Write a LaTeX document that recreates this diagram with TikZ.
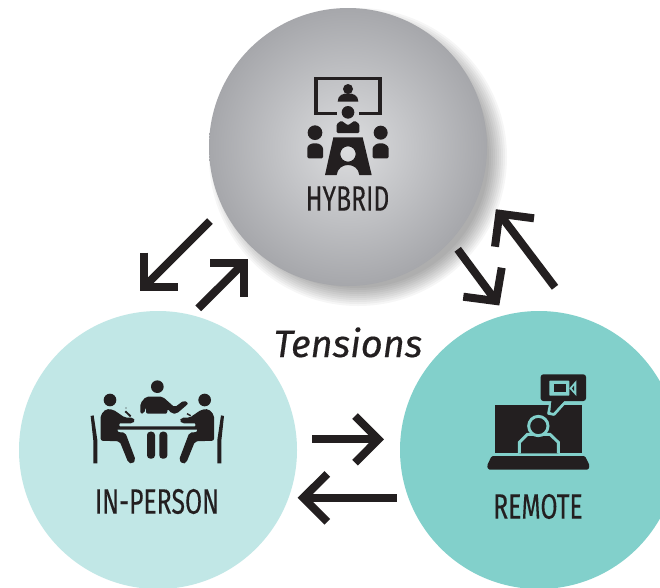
\documentclass[tikz,border=0pt]{standalone}
\usepackage{fontspec}
\setmainfont{Fira Sans}
\newfontfamily\labelfont[FakeStretch=0.70,FakeBold=0.2]{Fira Sans}
\newfontfamily\tensionfont[FakeBold=0.4]{Fira Sans}
\definecolor{ink}{HTML}{231F20}
\definecolor{lightteal}{HTML}{C1E7E6}
\definecolor{midteal}{HTML}{82D0CB}
\definecolor{greyin}{HTML}{DCDDDF}
\definecolor{greyout}{HTML}{A6A7AB}
\tikzset{
  disc/.style={circle,minimum size=208.5pt,inner sep=0pt,outer sep=0pt},
  arrowline/.style={draw=ink,line width=6pt,miter limit=10},
  tag/.style={text=ink,font=\labelfont\fontsize{26.5}{26.5}\selectfont,inner sep=0pt},
  zoomA/.style={shift={(280,60)},x=.25pt,y=-.25pt},
  zoomB/.style={shift={(80,370)},x=.25pt,y=-.25pt},
  zoomC/.style={shift={(470,365)},x=.25pt,y=-.25pt}
}
\newcommand{\halfperson}{%
  \fill[ink] (90,90) circle[radius=19];
  \fill[ink,rounded corners=1.5pt] (62,212) -- (62,135) -- (78,117) -- (100,119) -- (135,143) -- (160,143) -- (166,152) -- (158,160) -- (114,160) -- (112,186) -- (136,188) -- (167,270) -- (156,282) -- (145,278) -- (119,214) -- cycle;
  \fill[ink] (32,138) -- (41,136) -- (52,210) -- (52,280) -- (40,280) -- (40,212) -- cycle;
}
\begin{document}
\begin{tikzpicture}[x=.75pt,y=-.75pt]
\useasboundingbox (0,0) rectangle (660,587);
\clip (0,0) rectangle (660,587);
\fill[white] (0,0) rectangle (660,587);
% soft shadow
\foreach \r in {149,147,...,131}{
  \fill[black,opacity=.035] (358,157) circle[radius=\r];
}
\node[disc,inner color=greyin,outer color=greyout] (hybrid) at (348,147) {};
\node[disc,fill=lightteal] (inperson) at (158,450) {};
\node[disc,fill=midteal] (remote) at (539,450) {};
% labels
\node[tag] (hybridlabel) at (347.5,198.5) {HYBRID};
\node[tag] (inpersonlabel) at (157,501.5) {IN-PERSON};
\node[tag] (remotelabel) at (538,506.5) {REMOTE};
\node[text=ink,inner sep=0pt,anchor=base,font=\tensionfont\itshape\fontsize{28.5}{28.5}\selectfont] (tensions) at (348,357) {Tensions};
% hybrid icon
\begin{scope}[zoomA]
  \draw[ink,line width=2.3pt] (170,160) -- (108,160) -- (108,56) -- (300,56) -- (300,160) -- (236,160);
  \fill[ink] (204,87) circle[radius=15];
  \fill[ink] (173,125) .. controls (173,105) and (190,100) .. (204,100) .. controls (218,100) and (235,105) .. (235,125) -- cycle;
  \fill[ink] (204,157) circle[radius=19];
  \fill[ink,rounded corners=1pt] (170,219) -- (170,192) -- (184,182) -- (204,196) -- (224,182) -- (238,192) -- (238,219) -- cycle;
  \fill[ink,even odd rule] (160,232) -- (248,232) -- (275,345) -- (238,345) .. controls (236,325) and (220,315) .. (204,315) .. controls (188,315) and (172,325) .. (170,345) -- (135,345) -- cycle (204,282) circle[radius=23];
  \fill[ink] (105,218) circle[radius=22];
  \fill[ink] (302,218) circle[radius=21];
  \fill[ink,rounded corners=1pt] (82,295) -- (82,268) .. controls (82,255) and (95,250) .. (105,250) .. controls (118,250) and (129,258) .. (129,270) -- (129,295) -- cycle;
  \fill[ink,rounded corners=1pt] (278,295) -- (278,270) .. controls (278,258) and (290,250) .. (302,250) .. controls (314,250) and (326,258) .. (326,270) -- (326,295) -- cycle;
\end{scope}
% in-person icon
\begin{scope}[zoomB]
  \fill[ink] (232,50) circle[radius=19];
  \fill[ink,rounded corners=1.5pt] (181,131) -- (181,100) -- (198,80) -- (248,80) -- (284,112) -- (312,91) -- (326,100) -- (290,131) -- (276,131) -- (262,116) -- (262,131) -- (198,131) -- (198,110) -- (192,131) -- cycle;
  \fill[ink,rounded corners=.5pt] (110,160) -- (118,160) -- (118,169) -- (346,169) -- (346,160) -- (354,160) -- (354,179) -- (110,179) -- cycle;
  \fill[ink,rounded corners=2.5pt] (201,185) rectangle (225,266);
  \fill[ink,rounded corners=2.5pt] (238,185) rectangle (262,266);
  \halfperson
  \begin{scope}[shift={(464,0)},x=-.25pt]
    \halfperson
  \end{scope}
  \draw[ink,line width=1.4pt] (136,124) -- (152,139);
  \fill[ink] (138,114) circle[radius=2];
  \draw[ink,line width=1pt] (321,131) -- (332,137);
\end{scope}
% remote icon
\begin{scope}[zoomC]
  \fill[ink] (75,120) rectangle (337,265);
  \fill[ink,rounded corners=1pt] (65,273) -- (345,273) -- (359,302) -- (355,314) -- (55,314) -- (51,302) -- cycle;
  \draw[midteal,line width=2.2pt,fill=ink] (148,265) -- (148,232) -- (172,208) -- (240,208) -- (265,232) -- (265,265);
  \draw[midteal,line width=2.2pt,fill=ink] (205,183) circle[radius=29];
  \draw[midteal,line width=2.2pt,line join=round,fill=ink] (245,100) -- (236,145) -- (252,148) -- (295,100) -- cycle;
  \fill[ink,rounded corners=2pt] (212,28) rectangle (348,108);
  \fill[ink] (245,100) -- (241,141) -- (250,143) -- (290,100) -- cycle;
  \fill[midteal,rounded corners=.5pt] (238,47) rectangle (298,92);
  \fill[ink] (251,58) rectangle (287,80);
  \fill[midteal] (298,70) -- (319,46) -- (319,93) -- cycle;
  \fill[ink] (306,70) -- (312,62) -- (312,78) -- cycle;
\end{scope}
% arrows
\coordinate (hi-s) at (210,221); \coordinate (hi-t) at (144.3,286.7);
\coordinate (hi-a) at (144.3,252.7); \coordinate (hi-b) at (178.3,286.7);
\coordinate (ih-s) at (198.3,308.3); \coordinate (ih-t) at (244,262.7);
\coordinate (ih-a) at (210,262.7); \coordinate (ih-b) at (244,296.7);
\coordinate (hr-s) at (457.7,249.3); \coordinate (hr-t) at (496,301);
\coordinate (hr-a) at (501.7,267.7); \coordinate (hr-b) at (463.3,296.7);
\coordinate (rh-s) at (555,287.3); \coordinate (rh-t) at (499.3,213.7);
\coordinate (rh-a) at (534,218.3); \coordinate (rh-b) at (495,246.7);
\coordinate (ir-s) at (312.3,439.3); \coordinate (ir-t) at (378.3,439.3);
\coordinate (ir-a) at (355,416); \coordinate (ir-b) at (355,462.7);
\coordinate (ri-s) at (396.7,497.7); \coordinate (ri-t) at (303.3,497.7);
\coordinate (ri-a) at (327.3,474); \coordinate (ri-b) at (327.3,521.7);
\foreach \n in {hi,ih,hr,rh,ir,ri}{
  \draw[arrowline] (\n-s) -- (\n-t);
  \draw[arrowline] (\n-a) -- (\n-t) -- (\n-b);
}
\end{tikzpicture}
\end{document}
